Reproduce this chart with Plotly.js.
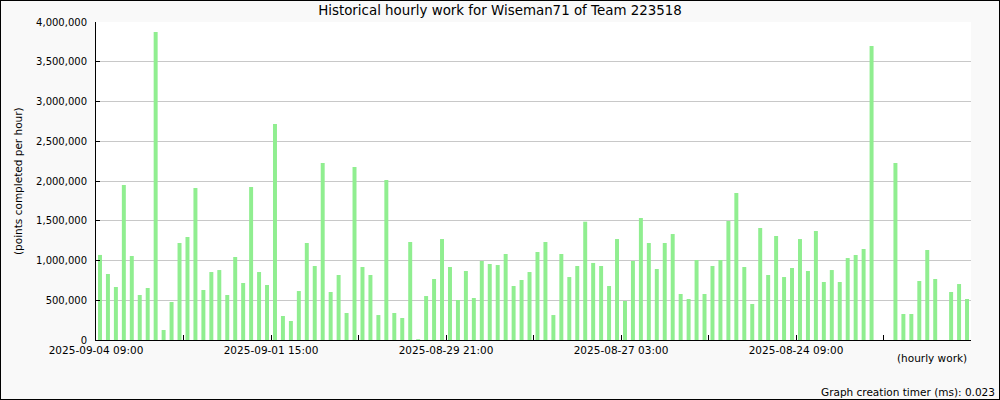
<!DOCTYPE html>
<html>
<head>
<meta charset="utf-8">
<script src="https://cdn.plot.ly/plotly-3.0.1.min.js"></script>
<style>
  html, body { margin: 0; padding: 0; background: #f9f9f9; }
  #chart { width: 998px; height: 398px; border: 1px solid #000; }
</style>
</head>
<body>
<div id="chart"></div>
<script>
// Work per 3-hour slot, newest first (2025-09-04 09:00 at the left)
const workValues = [
  1070000, 830000, 667000, 1950000, 1057000, 566000, 654000, 3874000, 126000, 478000,
  1220000, 1296000, 1912000, 629000, 855000, 880000, 566000, 1044000, 717000, 1925000,
  855000, 692000, 2717000, 302000, 239000, 616000, 1220000, 931000, 2226000, 604000,
  818000, 340000, 2176000, 918000, 818000, 314000, 2013000, 340000, 277000, 1233000,
  10000, 553000, 767000, 1270000, 918000, 503000, 868000, 528000, 994000, 956000,
  943000, 1082000, 679000, 755000, 855000, 1107000, 1233000, 314000, 1082000, 792000,
  931000, 1488000, 969000, 931000, 679000, 1270000, 491000, 994000, 1535000, 1220000,
  893000, 1220000, 1333000, 579000, 516000, 1006000, 579000, 931000, 1006000, 1497000,
  1849000, 918000, 453000, 1409000, 818000, 1308000, 792000, 906000, 1270000, 868000,
  1371000, 730000, 880000, 730000, 1031000, 1069000, 1145000, 3698000, null, null,
  2226000, 327000, 327000, 742000, 1132000, 767000, null, 604000, 704000, 516000
];
const majorTickLabels = ["2025-09-04 09:00", "2025-09-01 15:00", "2025-08-29 21:00", "2025-08-27 03:00", "2025-08-24 09:00"];
const slotsPerMinorTick = 11;
const yTickValues = [0, 500000, 1000000, 1500000, 2000000, 2500000, 3000000, 3500000, 4000000];

const titleText = "Historical hourly work for Wiseman71 of Team 223518";
const yTitle = "(points completed per hour)";
const xTitle = "(hourly work)";
const footer = "Graph creation timer (ms): 0.023";

const nSlots = workValues.length;
const xs = workValues.map((v, i) => i + 0.5);

const tickvals = [];
const ticktext = [];
for (let t = 0, k = 0; t <= nSlots; t += slotsPerMinorTick, k++) {
  tickvals.push(t);
  ticktext.push(k % 2 === 0 && majorTickLabels[k / 2] ? majorTickLabels[k / 2] : "");
}

const font = "DejaVu Sans";

const trace = {
  type: "bar",
  x: xs,
  y: workValues,
  width: 0.5,
  marker: { color: "#90ee90", line: { width: 0 } },
  hoverinfo: "y"
};

const layout = {
  width: 998,
  height: 398,
  margin: { l: 95, r: 28, t: 21, b: 59 },
  paper_bgcolor: "#f9f9f9",
  plot_bgcolor: "#ffffff",
  showlegend: false,
  font: { family: font, size: 10, color: "#000" },
  separators: ".,",
  title: {
    text: titleText,
    font: { family: font, size: 13.4, color: "#000" },
    xref: "container", x: 0.5, xanchor: "center",
    yref: "container", y: 1 - 9 / 398, yanchor: "middle"
  },
  xaxis: {
    range: [0, nSlots],
    tickmode: "array",
    tickvals: tickvals,
    ticktext: ticktext,
    ticks: "inside",
    ticklen: 5,
    tickcolor: "#000",
    tickfont: { family: font, size: 10.5, color: "#000" },
    showgrid: false,
    zeroline: false,
    showline: true,
    linecolor: "#000",
    linewidth: 1,
    fixedrange: true
  },
  yaxis: {
    range: [0, 4000000],
    tickmode: "array",
    tickvals: yTickValues,
    tickformat: ",d",
    ticks: "inside",
    ticklen: 4,
    tickcolor: "#000",
    ticklabelstandoff: 6,
    tickfont: { family: font, size: 10, color: "#000" },
    showgrid: true,
    gridcolor: "#c8c8c8",
    gridwidth: 1,
    zeroline: false,
    showline: true,
    linecolor: "#000",
    linewidth: 1,
    fixedrange: true
  },
  annotations: [
    {
      text: yTitle, textangle: -90,
      xref: "paper", x: 0, xshift: -78, xanchor: "center",
      yref: "paper", y: 0.5, yanchor: "middle",
      showarrow: false, font: { family: font, size: 10.5, color: "#000" }
    },
    {
      text: xTitle,
      xref: "paper", x: 1, xshift: -2, xanchor: "right",
      yref: "paper", y: 0, yshift: -18, yanchor: "middle",
      showarrow: false, font: { family: font, size: 10.5, color: "#000" }
    },
    {
      text: footer,
      xref: "paper", x: 1, xshift: 26, xanchor: "right",
      yref: "paper", y: 0, yshift: -52, yanchor: "middle",
      showarrow: false, font: { family: font, size: 10.5, color: "#000" }
    }
  ]
};

Plotly.newPlot("chart", [trace], layout, { displayModeBar: false, staticPlot: true });
</script>
</body>
</html>
